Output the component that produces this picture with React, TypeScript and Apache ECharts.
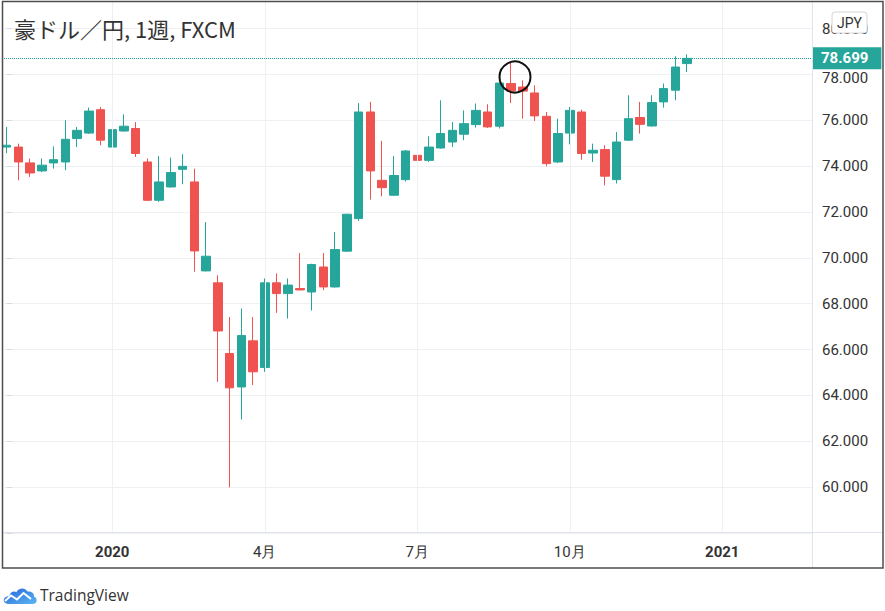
import React, { useEffect, useRef } from "react";
import * as echarts from "echarts";

const weeks = [
  "2019-11-04", "2019-11-11", "2019-11-18", "2019-11-25", "2019-12-02", "2019-12-09", "2019-12-16", "2019-12-23", "2019-12-30",
  "2020-01-06", "2020-01-13", "2020-01-20", "2020-01-27", "2020-02-03", "2020-02-10", "2020-02-17", "2020-02-24",
  "2020-03-02", "2020-03-09", "2020-03-16", "2020-03-23", "2020-03-30", "2020-04-06", "2020-04-13", "2020-04-20",
  "2020-04-27", "2020-05-04", "2020-05-11", "2020-05-18", "2020-05-25", "2020-06-01", "2020-06-08", "2020-06-15",
  "2020-06-22", "2020-06-29", "2020-07-06", "2020-07-13", "2020-07-20", "2020-07-27", "2020-08-03", "2020-08-10",
  "2020-08-17", "2020-08-24", "2020-08-31", "2020-09-07", "2020-09-14", "2020-09-21", "2020-09-28", "2020-10-05",
  "2020-10-12", "2020-10-19", "2020-10-26", "2020-11-02", "2020-11-09", "2020-11-16", "2020-11-23", "2020-11-30",
  "2020-12-07", "2020-12-14",
];

const opens = [
  74.83, 74.83, 74.14, 73.79, 74.14, 74.18, 75.2, 75.44, 76.46,
  74.83, 75.53, 75.64, 74.18, 72.51, 73.09, 73.86, 73.31,
  69.43, 68.91, 65.83, 64.37, 66.38, 65.22, 68.91, 68.44,
  68.66, 68.51, 69.6, 68.73, 70.29, 71.71, 76.36, 73.38,
  72.73, 73.41, 74.47, 74.25, 74.79, 75.05, 75.39, 75.81,
  76.36, 75.74, 77.6, 77.45, 77.19, 76.17, 74.18, 75.44,
  76.36, 74.57, 74.72, 73.41, 75.13, 76.12, 75.75, 76.8,
  77.31, 78.47,
];
const closes = [
  74.91, 74.18, 73.7, 74.04, 74.28, 75.17, 75.56, 76.4, 75.13,
  75.59, 75.74, 74.55, 72.51, 73.31, 73.72, 73.99, 70.3,
  70.07, 66.81, 64.33, 66.61, 65.03, 68.91, 68.44, 68.81,
  68.6, 69.71, 68.73, 70.36, 71.9, 76.36, 73.79, 73.06,
  73.59, 74.66, 74.25, 74.83, 75.42, 75.56, 75.85, 76.43,
  75.71, 77.62, 77.27, 77.27, 76.19, 74.11, 75.42, 76.43,
  74.55, 74.69, 73.56, 75.05, 76.07, 75.82, 76.77, 77.38,
  78.32, 78.699,
];
const lows = [
  74.56, 73.38, 73.53, 73.74, 73.89, 73.82, 74.83, 75.4, 74.91,
  73.74, 75.5, 74.4, 72.48, 72.44, 73.07, 73.21, 69.39,
  69.41, 64.59, 59.99, 62.95, 64.45, 65.03, 67.6, 67.35,
  68.58, 67.7, 68.59, 68.7, 70.26, 71.61, 72.54, 72.68,
  72.7, 73.33, 73.94, 74.18, 74.76, 74.83, 75.13, 75.68,
  75.66, 75.64, 76.75, 76.07, 75.97, 73.99, 74.14, 74.95,
  74.28, 74.18, 73.16, 73.24, 75.1, 75.42, 75.72, 76.55,
  76.87, 78.1,
];
const highs = [
  75.71, 74.98, 74.33, 74.33, 74.86, 76.0, 75.71, 76.55, 76.58,
  75.62, 76.26, 75.92, 74.33, 74.43, 74.37, 74.52, 73.89,
  71.56, 69.24, 67.42, 67.79, 67.42, 69.1, 69.32, 69.1,
  70.21, 69.74, 70.21, 71.13, 71.92, 76.75, 76.8, 75.1,
  74.43, 74.7, 75.2, 75.3, 76.87, 75.92, 76.43, 76.73,
  76.7, 77.65, 78.5, 77.74, 77.52, 76.36, 76.07, 76.58,
  76.46, 74.98, 74.91, 75.49, 77.09, 76.8, 77.09, 77.6,
  78.79, 78.87,
];

const yTicks = [60, 62, 64, 66, 68, 70, 72, 74, 76, 78, 80];
const timeLabelWeeks = ["2020-01-06", "2020-04-06", "2020-07-06", "2020-10-05", "2021-01-04"];
const timeLabels = ["2020", "4月", "7月", "10月", "2021"];

const TITLE = "豪ドル／円, 1週, FXCM";
const CURRENCY = "JPY";

const UP = "#26a69a";
const DOWN = "#ef5350";
const GRID = "#eef0f3";

echarts.graphic.registerShape(
  "tvcloud",
  echarts.graphic.extendPath(
    "M6 17 C2 17 0 14.5 1 12 C2 9.5 4.5 8.8 6.2 9.3 C6.8 5.5 10.5 3.5 13.5 5.2 C15.5 0.8 22 0.2 24.5 4.6 C28 3.6 31.5 6.2 31 9.6 C33.5 10.6 34.5 13.6 33 15.6 C32.2 16.6 31.2 17 30 17 Z",
    {}
  )
);

const DAY = 86400000;
const weekIndex = (d: string) => Math.round((Date.parse(d) - Date.parse(weeks[0])) / (7 * DAY));

export default function App() {
  const ref = useRef<HTMLDivElement>(null);
  useEffect(() => {
    const chart = echarts.init(ref.current!, null, { renderer: "svg" });
    const ohlc = weeks.map((_, i) => [i, opens[i], closes[i], lows[i], highs[i]]);
    const labelIdx = timeLabelWeeks.map(weekIndex);
    const lastClose = closes[closes.length - 1];
    const font = "Roboto";

    chart.setOption({
      animation: false,
      backgroundColor: "#ffffff",
      grid: { left: 4, right: 73, top: 1, bottom: 78, containLabel: false },
      xAxis: {
        type: "value",
        min: -0.23,
        max: 68.65,
        axisLine: { show: false },
        axisTick: { show: false },
        splitLine: { show: false },
        axisLabel: {
          customValues: labelIdx,
          margin: 11,
          fontSize: 15,
          fontFamily: font,
          color: "#333",
          formatter: (v: number) => {
            const k = labelIdx.indexOf(Math.round(v));
            if (k < 0) return "";
            const t = timeLabels[k];
            return /^\d{4}$/.test(t) ? `{b|${t}}` : t;
          },
          rich: {
            b: { fontWeight: "bold", fontSize: 15, fontFamily: font, color: "#333" },
          },
        },
      },
      yAxis: {
        type: "value",
        position: "right",
        min: 58,
        max: 81.2,
        interval: 2,
        axisLine: { show: false },
        axisTick: { show: true, length: 5, lineStyle: { color: "#d6d9e0" } },
        splitLine: { show: true, lineStyle: { color: GRID, width: 1 } },
        axisLabel: {
          margin: 10,
          fontSize: 15,
          fontFamily: font,
          color: "#333",
          formatter: (v: number) => {
            const r = Math.round(v * 1000) / 1000;
            if (!yTicks.includes(r)) return "";
            const s = r.toFixed(3);
            return Math.abs(r - lastClose) < 1 ? `{d|${s}}` : s;
          },
          rich: {
            d: { fontSize: 15, fontFamily: font, color: "#333", padding: [7, 0, 0, 0] },
          },
        },
      },
      series: [
        {
          type: "line",
          data: ohlc.map((d) => [d[0], d[2]]),
          symbol: "none",
          lineStyle: { opacity: 0 },
          silent: true,
          z: 1,
          markLine: {
            silent: true,
            symbol: ["none", "none"],
            label: { show: false },
            data: labelIdx.map((i) => ({
              xAxis: i,
              lineStyle: { color: GRID, type: "solid", width: 1 },
            })),
          },
        },
        {
          type: "candlestick",
          data: ohlc,
          barWidth: 9,
          z: 3,
          itemStyle: {
            color: UP,
            color0: DOWN,
            borderColor: UP,
            borderColor0: DOWN,
            borderWidth: 1,
          },
          markLine: {
            silent: true,
            symbol: ["none", "none"],
            data: [
              {
                yAxis: lastClose,
                lineStyle: { color: UP, type: "dotted", width: 1 },
                label: {
                  show: true,
                  position: "end",
                  distance: 0,
                  formatter: () => lastClose.toFixed(3),
                  backgroundColor: UP,
                  color: "#ffffff",
                  fontSize: 15,
                  fontWeight: "bold",
                  fontFamily: font,
                  padding: [4, 13, 3, 9],
                },
              },
            ],
          },
        },
      ],
      graphic: [
        {
          type: "line",
          silent: true,
          z: 50,
          shape: { x1: 812.5, y1: 1.5, x2: 812.5, y2: 568 },
          style: { stroke: "#e0e3eb", lineWidth: 1 },
        },
        {
          type: "line",
          silent: true,
          z: 50,
          shape: { x1: 2.5, y1: 532.5, x2: 883, y2: 532.5 },
          style: { stroke: "#e0e3eb", lineWidth: 1 },
        },
        {
          type: "rect",
          silent: true,
          z: 100,
          shape: { x: 2.5, y: 1.5, width: 880.5, height: 566.5 },
          style: { fill: "none", stroke: "#4d4d4d", lineWidth: 1.5 },
        },
        {
          type: "text",
          z: 100,
          x: 14,
          y: 28,
          style: {
            text: TITLE,
            fontSize: 22,
            fontFamily: '"Noto Sans CJK JP"',
            fill: "#333",
            verticalAlign: "middle",
          },
        },
        {
          type: "rect",
          z: 100,
          shape: { x: 832, y: 12, width: 35, height: 21, r: 3 },
          style: { fill: "#ffffff", stroke: "#d6d6d6", lineWidth: 1 },
        },
        {
          type: "text",
          z: 101,
          x: 849.5,
          y: 23,
          style: {
            text: CURRENCY,
            fontSize: 14,
            fontFamily: font,
            fill: "#333",
            align: "center",
            verticalAlign: "middle",
          },
        },
        {
          type: "circle",
          z: 100,
          shape: { cx: 515, cy: 77, r: 15.5 },
          style: { fill: "none", stroke: "#111", lineWidth: 2 },
        },
        {
          type: "tvcloud",
          z: 100,
          x: 3,
          y: 587,
          style: {
            fill: new echarts.graphic.LinearGradient(0, 0, 1, 1, [
              { offset: 0, color: "#2662d9" },
              { offset: 1, color: "#5cb8f2" },
            ]),
          },
        },
        {
          type: "polyline",
          z: 101,
          shape: { points: [[5, 601], [11, 595.5], [17, 599.5], [23.5, 593], [31, 599]] },
          style: { stroke: "#ffffff", lineWidth: 2, fill: "none" },
        },
        {
          type: "text",
          z: 100,
          x: 40,
          y: 595,
          style: {
            text: "TradingView",
            fontSize: 15.5,
            fontFamily: '"Open Sans"',
            fill: "#333",
            verticalAlign: "middle",
          },
        },
      ],
    });
    return () => chart.dispose();
  }, []);
  return <div ref={ref} style={{ position: "absolute", left: 0, top: 0, width: 885, height: 611 }} />;
}
